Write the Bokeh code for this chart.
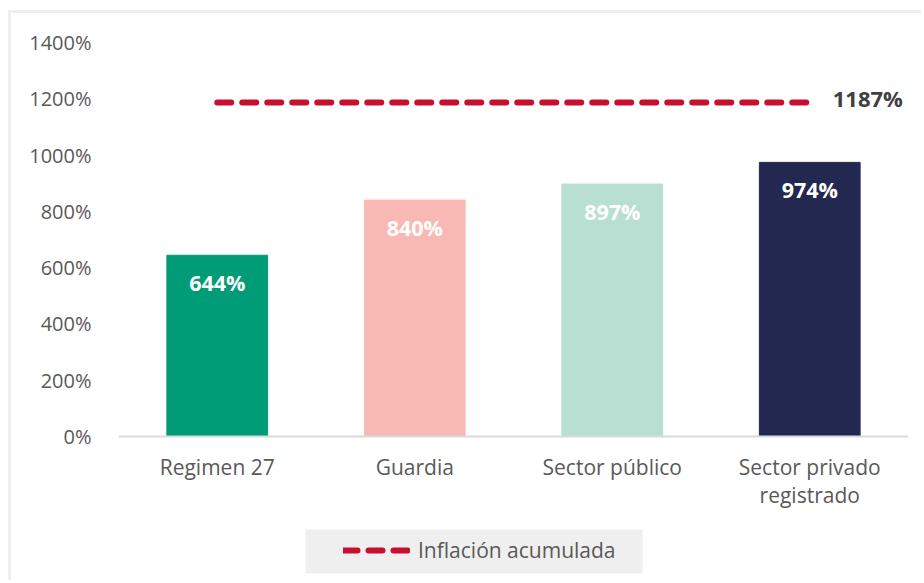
from bokeh.plotting import figure
from bokeh.models import ColumnDataSource, Range1d, Legend, LegendItem, FactorRange, BoxAnnotation
from bokeh.core.properties import value
from bokeh.embed import file_html
from bokeh.resources import INLINE

categories = ["Regimen 27", "Guardia", "Sector público", "Sector privado\nregistrado"]
values = [644, 840, 897, 974]
bar_labels = ["644%", "840%", "897%", "974%"]
colors = ["#009B77", "#F8B9B5", "#B9DFD3", "#232850"]
inflation = 1187
inflation_label = "1187%"
series_name = "Inflación acumulada"
y_ticks = [0, 200, 400, 600, 800, 1000, 1200, 1400]

FONT = "Open Sans"
GRAY = "#595959"

# frame spans from the 1400% line to the bottom of the canvas; 0% sits 394px below its top
px_per_unit = 394 / 1400
y_bottom = -(583 - 13 - 29 - 394) / px_per_unit

p = figure(width=913, height=570, x_range=FactorRange(*categories),
           y_range=Range1d(y_bottom, 1400),
           output_backend="svg", toolbar_location=None, min_border_left=107,
           min_border_right=16, min_border_top=29, min_border_bottom=0,
           margin=(10, 0, 0, 8))
p.styles = {"border-top": "3px solid #EEEEEE", "border-left": "3px solid #EEEEEE"}
p.outline_line_color = None
p.background_fill_color = "white"
p.border_fill_color = "white"
p.xgrid.visible = False
p.ygrid.visible = False

# legend background box (canvas units)
p.add_layout(BoxAnnotation(left=291, right=628, top=513, bottom=557,
                           left_units="canvas", right_units="canvas",
                           top_units="canvas", bottom_units="canvas",
                           fill_color="#EFEFEF", fill_alpha=1, line_color=None,
                           level="underlay"))

src = ColumnDataSource(dict(cat=categories, val=values, lab=bar_labels, col=colors))
p.vbar(x="cat", top="val", width=0.51, color="col", source=src)
p.text(x="cat", y="val", text="lab", source=src, text_color="white",
       text_font=value(FONT), text_font_size="21.5px", text_font_style="bold",
       text_align="center", text_baseline="middle", y_offset=27)

line_src = ColumnDataSource(dict(x=[categories[0], categories[-1]], y=[inflation, inflation]))
inf_r = p.line(x="x", y="y", source=line_src, line_color="#C8102E", line_width=6,
               line_dash="14 11", line_cap="round")
lab_src = ColumnDataSource(dict(x=[categories[-1]], y=[inflation], t=[inflation_label]))
p.text(x="x", y="y", text="t", source=lab_src, text_color="#404040",
       text_font=value(FONT), text_font_size="22px", text_font_style="bold",
       text_align="left", text_baseline="middle", x_offset=23, y_offset=-4)

p.xaxis.fixed_location = 0
p.xaxis.axis_line_color = "#D9D9D9"
p.xaxis.axis_line_width = 2
p.xaxis.major_tick_line_color = None
p.xaxis.minor_tick_line_color = None
p.xaxis.major_label_standoff = 10
p.xaxis.major_label_text_font = FONT
p.xaxis.major_label_text_font_size = "21px"
p.xaxis.major_label_text_color = GRAY
p.xaxis.major_label_text_line_height = 1.0

legend = Legend(items=[LegendItem(label=series_name, renderers=[inf_r])],
                location=(225, 19), orientation="horizontal",
                background_fill_alpha=0, border_line_color=None,
                padding=0, margin=0, spacing=0,
                glyph_width=67, glyph_height=22, label_height=22,
                label_standoff=8, label_text_font=FONT, label_text_font_size="21px",
                label_text_color=GRAY, label_text_baseline="middle")
p.add_layout(legend, "center")

p.yaxis.ticker = y_ticks
p.yaxis.major_label_overrides = {t: f"{t}%" for t in y_ticks}
p.yaxis.axis_line_color = None
p.yaxis.major_tick_line_color = None
p.yaxis.minor_tick_line_color = None
p.yaxis.major_label_standoff = 21
p.yaxis.major_label_text_font = FONT
p.yaxis.major_label_text_font_size = "20px"
p.yaxis.major_label_text_color = GRAY

open("out.html", "w").write(file_html(p, INLINE))
